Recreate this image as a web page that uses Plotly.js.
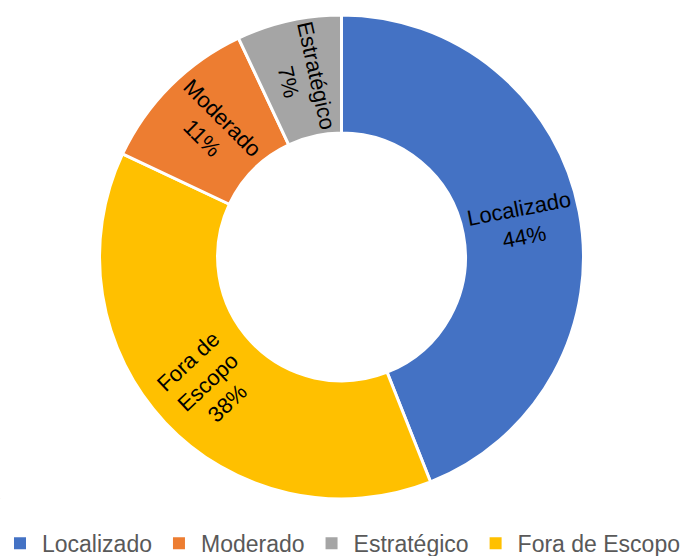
<!DOCTYPE html>
<html>
<head>
<meta charset="utf-8">
<script src="https://cdn.plot.ly/plotly-3.0.1.min.js"></script>
<style>
  html, body { margin: 0; padding: 0; background: #fff; }
  #chart { width: 683px; height: 556px; }
</style>
</head>
<body>
<div id="chart"></div>
<script>
// categories in legend order
const categories = ['Localizado', 'Moderado', 'Estratégico', 'Fora de Escopo'];
const shares = [44, 11, 7, 38];
// label text as it wraps inside the ring
const sliceText = ['Localizado', 'Moderado', 'Estratégico', 'Fora de<br>Escopo'];
const sliceColors = ['#4472C4', '#ED7D31', '#A5A5A5', '#FFC000'];

const W = 683, H = 556;
const margin = { l: 0, r: 0, t: 15, b: 57, autoexpand: false };
const hole = 0.512;
const labelFont = { family: 'Liberation Sans, Arial, sans-serif', size: 22, color: '#000' };

// the ring itself: largest first, clockwise from 12 o'clock
const ring = {
  type: 'pie',
  labels: categories,
  values: shares,
  hole: hole,
  sort: true,
  direction: 'clockwise',
  rotation: 0,
  showlegend: false,
  textinfo: 'none',
  marker: { colors: sliceColors, line: { color: '#fff', width: 3 } },
  hoverinfo: 'label+percent'
};

// tiny copy only to keep the legend in the original order
const legendKeys = {
  type: 'pie',
  labels: categories,
  values: shares,
  sort: false,
  textinfo: 'none',
  hoverinfo: 'skip',
  domain: { x: [0, 0.0005], y: [0, 0.0005] },
  marker: { colors: sliceColors, line: { width: 0 } }
};

// slice labels turned along the radius, like the original
const plotW = W - margin.l - margin.r;
const plotH = H - margin.t - margin.b;
const radius = Math.min(plotW, plotH) / 2;
const textR = radius * (1 + hole) / 2;
const total = shares.reduce((a, b) => a + b, 0);
const order = shares.map((v, i) => i).sort((a, b) => shares[b] - shares[a]);

const annotations = [];
let cum = 0;
order.forEach(i => {
  const mid = (cum + shares[i] / 2) / total * 360;
  cum += shares[i];
  const rad = mid * Math.PI / 180;
  const angle = mid < 180 ? mid - 90 : mid - 270;
  annotations.push({
    xref: 'paper', yref: 'paper',
    x: 0.5 + textR * Math.sin(rad) / plotW,
    y: 0.5 + textR * Math.cos(rad) / plotH,
    xanchor: 'center', yanchor: 'middle',
    text: sliceText[i] + '<br>' + Math.round(shares[i] / total * 100) + '%',
    textangle: angle,
    showarrow: false,
    font: labelFont
  });
});

const layout = {
  width: W,
  height: H,
  margin: margin,
  paper_bgcolor: '#fff',
  showlegend: true,
  annotations: annotations,
  legend: {
    orientation: 'h',
    x: 0.5,
    xanchor: 'center',
    y: -0.136,
    yanchor: 'bottom',
    itemwidth: 34,
    font: { family: 'Liberation Sans, Arial, sans-serif', size: 23, color: '#595959' },
    itemclick: false
  }
};

Plotly.newPlot('chart', [legendKeys, ring], layout, { displayModeBar: false });
</script>
</body>
</html>
